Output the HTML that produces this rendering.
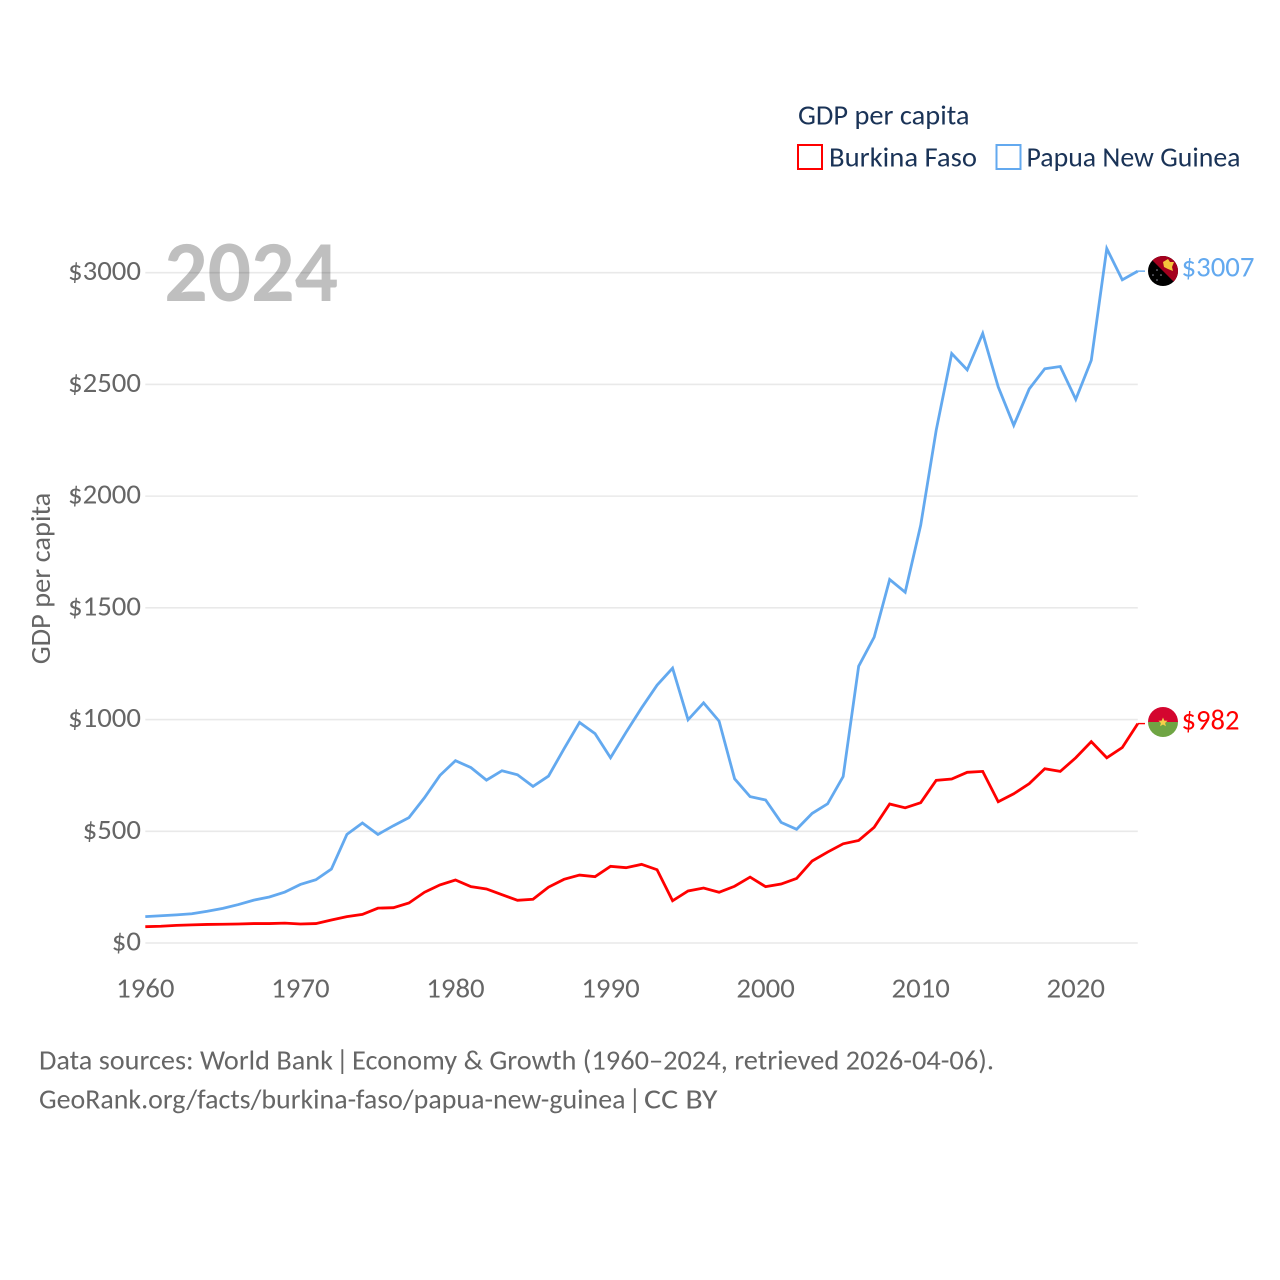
<!DOCTYPE html>
<html lang="en">
<head>
<meta charset="utf-8">
<title>GDP per capita: Burkina Faso and Papua New Guinea</title>
<style>
html,body{margin:0;padding:0;background:#fff;}
svg{display:block;font-family:"Carlito","Lato","Liberation Sans",sans-serif;}
</style>
</head>
<body>
<svg id="chart" width="1280" height="1280" viewBox="0 0 1280 1280" xmlns="http://www.w3.org/2000/svg">
  <rect width="1280" height="1280" fill="#fff"/>
  <g id="grid"></g>
  <g id="yticks"></g>
  <g id="xticks"></g>
  <text x="164.2" y="301" font-size="87" font-weight="700" fill="#000" fill-opacity="0.25" textLength="174" lengthAdjust="spacingAndGlyphs">2024</text>
  <text transform="translate(50,578.5) rotate(-90)" text-anchor="middle" font-size="27.5" fill="#666" textLength="171.5" lengthAdjust="spacingAndGlyphs">GDP per capita</text>
  <g id="series"></g>

  <g>
    <text x="798" y="124.5" font-size="27.5" fill="#1a3357" textLength="171.5" lengthAdjust="spacingAndGlyphs">GDP per capita</text>
    <rect x="798" y="145" width="24" height="24" fill="none" stroke="#ff0000" stroke-width="2"/>
    <text x="829" y="166.5" font-size="27.5" fill="#1a3357" textLength="148" lengthAdjust="spacingAndGlyphs">Burkina Faso</text>
    <rect x="996.5" y="145" width="24" height="24" fill="none" stroke="#63a9ef" stroke-width="2"/>
    <text x="1026.5" y="166.5" font-size="27.5" fill="#1a3357" textLength="214" lengthAdjust="spacingAndGlyphs">Papua New Guinea</text>
  </g>

  <defs>
    <clipPath id="flag-clip-top"><circle cx="1163" cy="271" r="15"/></clipPath>
    <clipPath id="flag-clip-bottom"><circle cx="1163" cy="722" r="15"/></clipPath>
  </defs>
  <g id="flag-png" clip-path="url(#flag-clip-top)">
    <rect x="1148" y="256" width="30" height="30" fill="#000"/>
    <polygon points="1148,256 1178,256 1178,286" fill="#a5001e"/>
    <polygon points="1163,262 1168,259 1170,262 1174,262 1172,267 1173,271 1168,269 1164,267" fill="#f4c53c"/>
    <circle cx="1157" cy="270" r="0.8" fill="#99a"/>
    <circle cx="1153" cy="275" r="0.8" fill="#99a"/>
    <circle cx="1161" cy="275" r="0.8" fill="#99a"/>
    <circle cx="1157" cy="280" r="0.8" fill="#99a"/>
  </g>
  <g id="flag-bf" clip-path="url(#flag-clip-bottom)">
    <rect x="1148" y="707" width="30" height="15" fill="#d4062f"/>
    <rect x="1148" y="722" width="30" height="15" fill="#6fa544"/>
    <polygon points="1163,717.5 1164.3,720.6 1167.6,720.8 1165.1,723 1165.9,726.2 1163,724.5 1160.1,726.2 1160.9,723 1158.4,720.8 1161.7,720.6" fill="#f6cf4a"/>
  </g>
  <text id="value-png" x="1181.5" y="276.5" font-size="28.5" fill="#63a9ef" textLength="73" lengthAdjust="spacingAndGlyphs"></text>
  <text id="value-bf" x="1181.5" y="729.5" font-size="28.5" fill="#ff0000" textLength="58" lengthAdjust="spacingAndGlyphs"></text>

  <g font-size="27.5" fill="#666">
    <text x="39" y="1069.5" textLength="294" lengthAdjust="spacingAndGlyphs">Data sources: World Bank</text>
    <text x="336" y="1069.5">|</text>
    <text x="352" y="1069.5" textLength="642" lengthAdjust="spacingAndGlyphs">Economy &amp; Growth (1960–2024, retrieved 2026-04-06).</text>
    <text x="39" y="1108.5" textLength="586.5" lengthAdjust="spacingAndGlyphs">GeoRank.org/facts/burkina-faso/papua-new-guinea</text>
    <text x="628.5" y="1108.5">|</text>
    <text x="644" y="1108.5" textLength="73.5" lengthAdjust="spacingAndGlyphs">CC BY</text>
  </g>
</svg>
<script>
const firstYear = 1960;
const lastYear = 2024;
const yTicks = [0, 500, 1000, 1500, 2000, 2500, 3000];
const xTicks = [1960, 1970, 1980, 1990, 2000, 2010, 2020];
const burkinaFaso = [73,75,79,81,83,84,85,87,87,89,85,87,103,118,128,156,158,179,227,260,282,252,242,216,191,196,250,285,304,297,343,337,352,328,189,233,246,227,254,295,252,264,289,367,407,444,459,518,622,605,628,728,734,764,768,632,668,713,780,768,829,901,829,875,982];
const papuaNewGuinea = [118,122,126,131,142,155,172,192,206,228,262,283,331,486,537,486,525,561,650,750,816,785,729,771,753,701,747,869,987,937,829,943,1052,1154,1230,999,1075,993,735,655,640,540,509,580,623,745,1239,1369,1627,1570,1870,2295,2638,2565,2728,2489,2317,2480,2570,2580,2433,2608,3108,2968,3007];
const burkinaLabel = "$982";
const papuaLabel = "$3007";

const NS = "http://www.w3.org/2000/svg";
const xScale = function (year) { return 145.3 + (year - firstYear) * (1137.8 - 145.3) / (lastYear - firstYear); };
const yScale = function (value) { return 943 - value * (943 - 272.7) / 3000; };
const connectorEnd = 1145;

const grid = document.getElementById("grid");
const yGroup = document.getElementById("yticks");
const xGroup = document.getElementById("xticks");
const seriesGroup = document.getElementById("series");

yTicks.forEach(function (tick) {
  const line = document.createElementNS(NS, "line");
  
  
  line.setAttribute("x1", xScale(firstYear));
  line.setAttribute("x2", xScale(lastYear));
  line.setAttribute("y1", yScale(tick));
  line.setAttribute("y2", yScale(tick));
  line.setAttribute("stroke", "#e9e9e9");
  line.setAttribute("stroke-width", "1.6");
  grid.appendChild(line);

  const label = document.createElementNS(NS, "text");
  
  
  const str = "$" + tick;
  label.textContent = str;
  label.setAttribute("x", 141);
  label.setAttribute("y", yScale(tick) + 7.5);
  label.setAttribute("text-anchor", "end");
  label.setAttribute("font-size", "27.5");
  label.setAttribute("fill", "#666");
  label.setAttribute("textLength", str.length * 14.6);
  label.setAttribute("lengthAdjust", "spacingAndGlyphs");
  yGroup.appendChild(label);
});

xTicks.forEach(function (tick) {
  const label = document.createElementNS(NS, "text");
  
  
  const str = String(tick);
  label.textContent = str;
  label.setAttribute("x", xScale(tick));
  label.setAttribute("y", 997.5);
  label.setAttribute("text-anchor", "middle");
  label.setAttribute("font-size", "27.5");
  label.setAttribute("fill", "#666");
  label.setAttribute("textLength", str.length * 14.6);
  label.setAttribute("lengthAdjust", "spacingAndGlyphs");
  xGroup.appendChild(label);
});

function pathFor(values) {
  return values.map(function (v, i) {
    return (i === 0 ? "M" : "L") + xScale(firstYear + i).toFixed(2) + " " + yScale(v).toFixed(2);
  }).join(" ");
}

function drawSeries(values, color, name) {
  const path = document.createElementNS(NS, "path");
  
  
  path.setAttribute("d", pathFor(values));
  path.setAttribute("fill", "none");
  path.setAttribute("stroke", color);
  path.setAttribute("stroke-width", "2.8");
  path.setAttribute("stroke-linejoin", "miter");
  seriesGroup.appendChild(path);

  const last = yScale(values[values.length - 1]);
  const conn = document.createElementNS(NS, "line");
  
  
  conn.setAttribute("x1", xScale(lastYear));
  conn.setAttribute("x2", connectorEnd);
  conn.setAttribute("y1", last);
  conn.setAttribute("y2", last);
  conn.setAttribute("stroke", color);
  conn.setAttribute("stroke-width", "1.4");
  seriesGroup.appendChild(conn);
}

drawSeries(papuaNewGuinea, "#63a9ef", "line-papua-new-guinea");
drawSeries(burkinaFaso, "#ff0000", "line-burkina-faso");

document.getElementById("value-png").textContent = papuaLabel;
document.getElementById("value-bf").textContent = burkinaLabel;
</script>
</body>
</html>
